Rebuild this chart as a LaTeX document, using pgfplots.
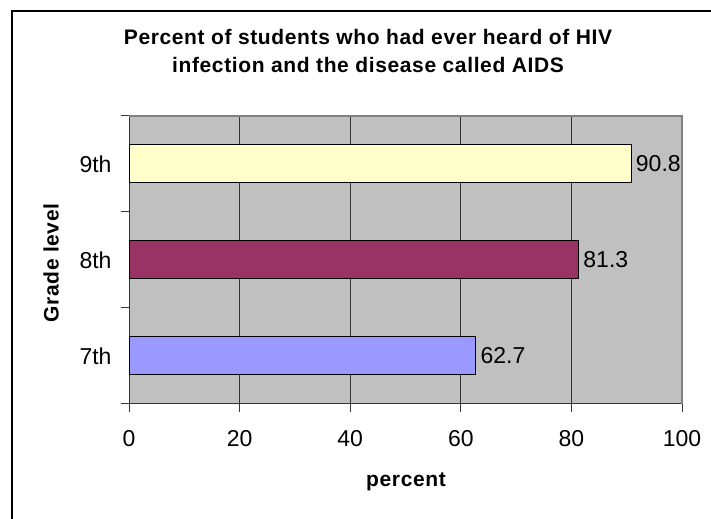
\documentclass[border=0pt]{standalone}
\usepackage{fontspec}
\setmainfont{Liberation Sans}
\newfontfamily\spaced[LetterSpace=3]{Liberation Sans}
\usepackage{pgfplots}
\pgfplotsset{compat=1.18}
\definecolor{plotbg}{HTML}{C0C0C0}
\definecolor{bar7}{HTML}{9999FF}
\definecolor{bar8}{HTML}{993366}
\definecolor{bar9}{HTML}{FFFFCC}
\definecolor{edgegray}{HTML}{808080}
\newcommand\ticksz{\fontsize{23bp}{27bp}\selectfont}
\newcommand\boldsz{\spaced\bfseries\fontsize{21bp}{25bp}\selectfont}
\begin{document}
\begin{tikzpicture}[x=1bp,y=1bp]
\path[use as bounding box] (0,0) rectangle (711,519);
% outer chart frame (only left and top edges fall inside the picture)
\draw[line width=2bp] (12,-2) -- (12,508) -- (713,508);
\begin{axis}[
  at={(129bp,115bp)}, anchor=south west,
  scale only axis, width=553bp, height=288bp,
  xbar, bar width=38bp, bar shift=0pt,
  xmin=0, xmax=100, ymin=-0.5, ymax=2.5,
  axis x line*=bottom, axis y line*=left,
  axis line style={draw=black!80, line width=1bp},
  axis background/.style={fill=plotbg},
  /pgf/number format/assume math mode=true,
  xtick={0,20,40,60,80,100},
  xmajorgrids, grid style={black!80, line width=0.8bp},
  tick align=outside, major tick length=8bp,
  tick style={black!80, line width=1bp},
  ytick={-0.5,0.5,1.5,2.5}, yticklabels={},
  extra y ticks={0,1,2}, extra y tick labels={7th,8th,9th},
  extra y tick style={major tick length=0pt, tick style={draw=none},
    yticklabel style={xshift=-14bp}},
  tick label style={font=\ticksz},
  xticklabel style={yshift=-15bp},
  nodes near coords={\pgfmathprintnumber[fixed,precision=1,fixed zerofill]{\pgfplotspointmeta}},
  nodes near coords style={font=\ticksz, anchor=west, xshift=1bp},
  clip=false,
]
\addplot[fill=bar7, draw=black, line width=1bp] coordinates {(62.7,0)};
\addplot[fill=bar8, draw=black, line width=1bp] coordinates {(81.3,1)};
\addplot[fill=bar9, draw=black, line width=1bp] coordinates {(90.8,2)};
\draw[edgegray, line width=1.5bp] (rel axis cs:0,1) -- (rel axis cs:1,1) -- (rel axis cs:1,0);
\end{axis}
\node[anchor=base, font=\boldsz] at (368,474) {Percent of students who had ever heard of HIV};
\node[anchor=base, font=\boldsz] at (368,446) {infection and the disease called AIDS};
\node[rotate=90, font=\boldsz] at (51,256) {Grade level};
\node[font=\boldsz] at (406,37) {percent};
\end{tikzpicture}
\end{document}
